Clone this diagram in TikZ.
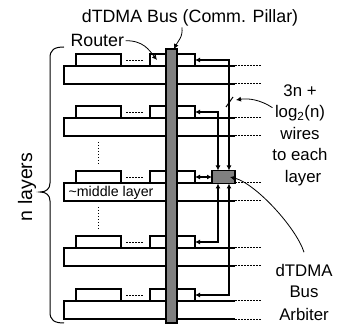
\documentclass[tikz,border=0pt]{standalone}
\usepackage{fontspec}
\setmainfont{Liberation Sans}
\usetikzlibrary{arrows.meta}
\definecolor{pillargray}{RGB}{128,128,128}
\begin{document}
\begin{tikzpicture}[x=1pt,y=-1pt,line width=1.2pt,
  tip/.style={-{Latex[length=5pt,width=5pt]}},
  twotip/.style={{Latex[length=5pt,width=5pt]}-{Latex[length=5pt,width=5pt]}},
  thintip/.style={line width=0.8pt,-{Latex[length=5pt,width=5pt]}},
  routerbox/.style={draw,fill=white,minimum width=45pt,minimum height=12pt,inner sep=0pt,outer sep=0pt},
  grayblock/.style={draw,fill=pillargray,inner sep=0pt,outer sep=0pt},
  dots/.style={line width=1pt,dash pattern=on 1.5pt off 1.5pt},
  lbl/.style={inner sep=0pt,font=\fontsize{17.8}{20}\selectfont},
  rlbl/.style={inner sep=0pt,anchor=base,font=\fontsize{16.8}{20}\selectfont}
]
\useasboundingbox (0,0) rectangle (345,328);

% layers
\foreach \i/\s in {1/66,2/118,3/183,4/248,5/301}{
  \fill[white] (64,\s) rectangle (235,\s+18);
  \draw (235,\s) -- (64,\s) -- (64,\s+18) -- (235,\s+18);
  \draw[dots] (235,\s) -- (262,\s) (235,\s+18) -- (262,\s+18);
  \node[routerbox] (ra\i) at (98.5,\s-6) {};
  \node[routerbox] (rb\i) at (172.5,\s-6) {};
  \draw[dots] (126,\s-5) -- (143,\s-5);
}
\draw[dots] (98,142) -- (98,165);
\draw[dots] (98,207) -- (98,230);
\node[inner sep=0pt,anchor=base west,font=\fontsize{14.2}{16}\selectfont] (mid) at (68,196.5) {\textasciitilde middle layer};

% arbiter and wires
\node[grayblock,minimum width=23pt,minimum height=13pt] (arb) at (223.5,177) {};
\coordinate (an1) at ([xshift=-5.5pt]arb.north);
\coordinate (an2) at ([xshift=5.5pt]arb.north);
\coordinate (as1) at ([xshift=-5.5pt]arb.south);
\coordinate (as2) at ([xshift=5.5pt]arb.south);
\draw[twotip] (rb1.east) -| (an2);
\draw[twotip] (rb2.east) -| (an1);
\draw[twotip] (rb4.east) -| (as1);
\draw[twotip] (rb5.east) -| (as2);
\draw[twotip] (rb3.east) -- (arb.west);
\draw[line width=1pt] (226,107) -- (233,97);
\coordinate (wirestip) at (236,100);

% pillar
\node[grayblock,minimum width=11pt,minimum height=274pt] (pillar) at (171.5,186) {};

% brace
\draw[line width=1pt] (64,47) .. controls (54,47) and (50,50) .. (50,58) -- (50,183)
  .. controls (50,189) and (46,192) .. (40,192)
  .. controls (46,192) and (50,195) .. (50,201) -- (50,312)
  .. controls (50,320) and (54,323) .. (64,323);
\node[rotate=90,inner sep=0pt,font=\fontsize{19.5}{22}\selectfont] (nl) at (27,187) {n layers};

% labels
\node[lbl,anchor=base] (title) at (190,23) {dTDMA Bus (Comm. Pillar)};
\draw[thintip] ([xshift=-8pt]title.south) .. controls +(1,10) and +(4,-8) .. ([xshift=2.5pt]pillar.north);
\node[lbl,anchor=base west] (rt) at (70,46.7) {Router};
\draw[thintip] ([xshift=1pt]rt.east) .. controls +(18,0) and +(-8,-10) .. ([xshift=7pt]rb1.west);

\node[rlbl] (w1) at (300,97) {3n +};
\node[rlbl] (w2) at (300,118) {log\textsubscript{2}(n)};
\node[rlbl] (w3) at (300,140) {wires};
\node[rlbl] (w4) at (300,161) {to each};
\node[rlbl] (w5) at (303,183) {layer};
\draw[thintip] ([xshift=-2pt,yshift=6pt]w2.west) .. controls +(-12,-8) and +(12,-2) .. (wirestip);

\node[rlbl] (b1) at (304,277) {dTDMA};
\node[rlbl] (b2) at (304,298) {Bus};
\node[rlbl] (b3) at (304,320) {Arbiter};
\draw[thintip] ([yshift=12pt]b1.north) .. controls +(-8,-25) and +(25,6) .. ([xshift=-5pt]arb.east);
\end{tikzpicture}
\end{document}
